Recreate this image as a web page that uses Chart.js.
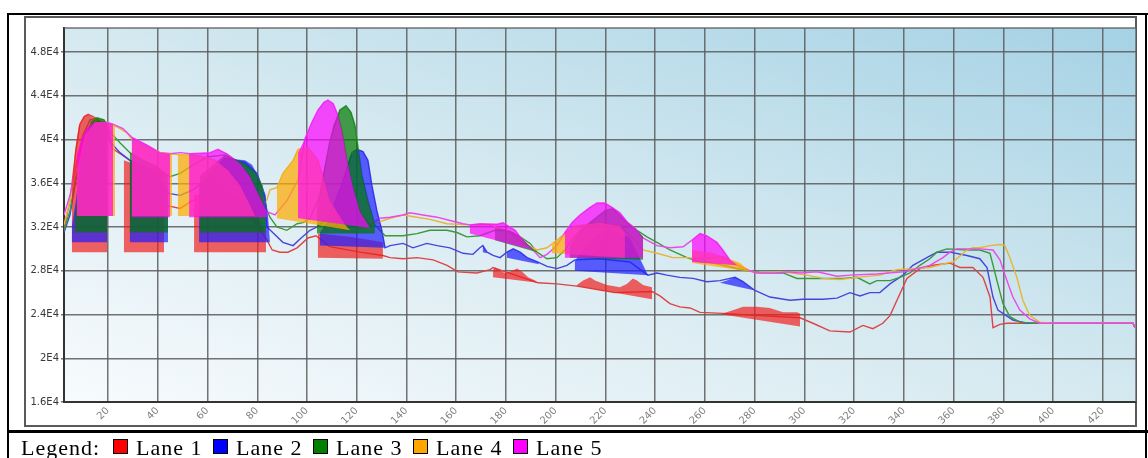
<!DOCTYPE html>
<html>
<head>
<meta charset="utf-8">
<script src="https://cdn.jsdelivr.net/npm/chart.js@4.4.1/dist/chart.umd.min.js"></script>
<style>
  body { margin: 0; background: #fff; }
  #page { position: relative; width: 1148px; height: 458px; overflow: hidden; background: #fff; }
  .rule { position: absolute; background: #000; }
  #frame { position: absolute; left: 24px; top: 16px; width: 1113px; height: 411px; box-sizing: border-box; border: 2px solid #5a5a5a; }
  #chart { position: absolute; left: 0; top: 0; }
  .lg { position: absolute; top: 436px; font-family: "Liberation Serif", serif; font-size: 22px; line-height: 24px; color: #000; letter-spacing: 1px; white-space: nowrap; }
  .sw { position: absolute; top: 439px; width: 13px; height: 13px; border: 1px solid #000; }
</style>
</head>
<body>
<div id="page">
  <div class="rule" style="left:7px;top:13px;width:1141px;height:2px"></div>
  <div class="rule" style="left:7px;top:13px;width:2px;height:445px"></div>
  <div class="rule" style="left:1145px;top:13px;width:2px;height:445px"></div>
  <div class="rule" style="left:7px;top:430px;width:1141px;height:3px"></div>
  <div id="frame"></div>
  <canvas id="chart" width="1148" height="458"></canvas>
  <div id="legend"></div>
</div>
<script>
// lane names and colours
const laneNames = ['Lane 1', 'Lane 2', 'Lane 3', 'Lane 4', 'Lane 5'];
const swatchColors = ['#ff0000', '#0000ff', '#008000', '#ffa500', '#ff00ff'];
const lineColors = ['#de4446', '#4545de', '#3a9a3a', '#e8b436', '#ec48ec'];
const fillColors = ['rgba(240,25,25,0.68)', 'rgba(30,30,255,0.7)', 'rgba(0,120,0,0.7)',
                    'rgba(255,170,0,0.72)', 'rgba(255,0,255,0.7)'];

// axis ticks
const xTicks = [20, 40, 60, 80, 100, 120, 140, 160, 180, 200, 220, 240, 260, 280, 300, 320, 340, 360, 380, 400, 420];
const yTicks = [16000, 20000, 24000, 28000, 32000, 36000, 40000, 44000, 48000];

// lane curves [x, value]
const lane1Line = [[2.3,31900],[4.7,34400],[7.1,39000],[8.7,41400],[10.4,42100],[12,42300],[14,42100],[16.8,41700],[19.6,41300],[20,40900],[21.6,39200],[25.6,38600],[28.8,38100],[34.9,37700],[36.9,35800],[42.9,34000],[49,33700],[53.8,34400],[61,34900],[69,34400],[77.1,33100],[81.9,31500],[83.9,30800],[86,29900],[89.1,29700],[92.3,29700],[96,30100],[100.4,31000],[103.6,31200],[109.2,30200],[121.3,29700],[130.5,29400],[133.4,29200],[138.6,29100],[144.2,29200],[150.7,29000],[156.3,28500],[160.7,27900],[168.3,27800],[173.6,28100],[174.8,28300],[192.9,26900],[200.5,26800],[208.5,26600],[223.8,26000],[238.7,26100],[241.9,25700],[245.9,25000],[249.9,24700],[254,24600],[258,24200],[267.2,24100],[282.1,23900],[298.2,23700],[303.4,23200],[310.2,22500],[318.3,22400],[323.5,23000],[327.5,22700],[331.5,23200],[334.4,23900],[337.2,25300],[341.2,27300],[346.4,28200],[351.7,28500],[358.5,28700],[362.5,28300],[367.7,28300],[371.8,27400],[374.6,25600],[375.8,22800],[378.6,23100],[381.4,23200],[386.6,23200],[432.1,23200],[432.9,22800]];
const lane2Line = [[2.3,31500],[4.7,33100],[7.1,36300],[9.5,39000],[11.6,40900],[14,41500],[16.8,41700],[19.6,41300],[20.8,39800],[24.8,38800],[28.8,38100],[38.1,36900],[43.7,35100],[49,34900],[54.2,35400],[59,36300],[67,38300],[75.1,37900],[79.9,36900],[83.1,34900],[83.9,32000],[90.3,30600],[94.4,30300],[97.2,30900],[101.2,31700],[104,32000],[109.2,33100],[115.3,36700],[118.1,38800],[120.1,39100],[122.5,38900],[124.5,38100],[126.1,35800],[128.1,33500],[130.1,31700],[131.4,30100],[133.4,30300],[138.6,30500],[142.6,30100],[148.2,30500],[152.3,30300],[157.5,30100],[162.7,29600],[166.7,29500],[169.5,30100],[170.7,30300],[172.4,29700],[174.8,29400],[177.6,29200],[180.4,29700],[182.9,30000],[185.7,29700],[188.5,29200],[192.9,28800],[196.5,28400],[200.5,28200],[204.5,28500],[207.7,29000],[217.8,29100],[229.8,28800],[237.1,27600],[240.7,27800],[244.7,27600],[249.9,27400],[255.2,27300],[260.8,27000],[266,27100],[272.1,27400],[275.3,27000],[280.1,26200],[286.1,25600],[294.2,25300],[299.4,25400],[307.4,25400],[313.1,25500],[318.3,26000],[322.3,25700],[326.3,26000],[330.3,26000],[334.4,26800],[339.6,27600],[343.6,28500],[349.2,29200],[353.3,29700],[358.5,29700],[365.3,29400],[370.5,29100],[373.4,28300],[375.8,25600],[377.8,24400],[383.8,23500],[389.4,23200],[432.1,23200],[432.9,22800]];
const lane3Line = [[2.3,31700],[4.7,33500],[7.1,36700],[9.9,40400],[12.8,41800],[15.6,42000],[18.4,41800],[20.8,40700],[24.8,39700],[28.8,38800],[34.1,38100],[39.7,37500],[44.9,36600],[49,36900],[53,37500],[59.8,38400],[67,38600],[75.1,37700],[79.1,37000],[81.9,35800],[83.9,33500],[85.1,32900],[87.9,32000],[91.9,31700],[96,32300],[98.4,32400],[101.2,32800],[105.2,34900],[109.2,39900],[113.2,42700],[115.7,43100],[117.7,42500],[119.3,41300],[120.5,39300],[122.1,36700],[124.5,34400],[127.3,32200],[131.4,31200],[138.6,31200],[144.2,31400],[149.4,31700],[156.3,31700],[160.3,31500],[164.3,31100],[169.5,31200],[175.6,31700],[181.6,31600],[185.7,31100],[189.7,30500],[192.5,29700],[196.5,29100],[200.5,29200],[203.7,29900],[207.7,31200],[213.8,32400],[219.8,33500],[223,33700],[227.8,32600],[232.7,31700],[236.7,31100],[240.7,30600],[245.9,29900],[252.8,29200],[258,28800],[263.2,28700],[271.2,28300],[276.9,28000],[283.3,27800],[291.4,27800],[297,27300],[307.4,27300],[315.5,27300],[321.1,27400],[326.3,26800],[329.1,27100],[334.4,27100],[338.4,27400],[342.4,27800],[346.4,28500],[350.4,29100],[353.3,29700],[357.3,30000],[365.3,29900],[370.5,29900],[374.6,29600],[377.4,27100],[379.8,25000],[382.6,23800],[386.6,23300],[391.8,23200],[432.1,23200],[432.9,22800]];
const lane4Line = [[2.3,32200],[4.7,34400],[7.9,38100],[12,40900],[16,41700],[18.8,41600],[20.8,41500],[24.8,41000],[27.6,40600],[30.1,39900],[35.7,39400],[40.9,38800],[45.7,38700],[49,38600],[52.6,38600],[57,38500],[63.1,38100],[68.2,37200],[73.1,35800],[77.1,34000],[80.3,33300],[83.9,34500],[85.1,35400],[87.9,35600],[90.3,36900],[94.4,38100],[96.4,39100],[100.4,39300],[104.4,38100],[109.2,34400],[112.1,32000],[117.3,31500],[122.5,31900],[128.1,32400],[133.4,32800],[138.6,33100],[144.2,32900],[149.4,32700],[156.3,32300],[165.5,32200],[173.6,32200],[181.6,31500],[186.9,30500],[192.5,29900],[196.5,30100],[200.5,30800],[207.7,32100],[217.8,32400],[225.8,32100],[231.8,30800],[235.1,29900],[240.7,29600],[247.1,29200],[252.8,29200],[259.2,29100],[267.2,29300],[274.1,28500],[278.1,28000],[280.9,27800],[291.4,27900],[301,27600],[307.4,27300],[314.3,27200],[321.1,27400],[330.3,27600],[337.2,28100],[343.6,28200],[350.4,28300],[357.3,28700],[359.7,28800],[365.3,29900],[367.7,30100],[370.5,30100],[374.6,30300],[378.6,30400],[380.6,30300],[382.6,29200],[385.4,27400],[387.8,25300],[390.6,23900],[394.6,23300],[399.9,23200],[432.1,23200],[432.9,22800]];
const lane5Line = [[2.3,33100],[4.7,34900],[7.5,38100],[9.9,40100],[12.8,41300],[15.6,41600],[18.8,41600],[22,41400],[26,41000],[29.6,40200],[35.7,39500],[40.9,38800],[44.9,38700],[49,38800],[53,38700],[61,38800],[64.2,39100],[67.8,38700],[73.1,37800],[77.1,36600],[81.1,34700],[83.9,33400],[87.1,33100],[91.9,34400],[96.4,36300],[99.2,40100],[102,41600],[104.4,42700],[106.8,43400],[108.4,43600],[110.5,43300],[112.5,42200],[114.1,40700],[116.1,38100],[118.5,35600],[121.3,33400],[125.3,32200],[129.3,32800],[133.4,32900],[138.6,33100],[141.4,33300],[146.6,33100],[152.3,32900],[157.5,32600],[162.7,32300],[165.5,32200],[169.5,32300],[176.4,32250],[178.8,32400],[181.6,32000],[183.7,31700],[185.7,31100],[188.5,30400],[190.9,29900],[193.7,29200],[196.5,29500],[200.5,30300],[203.7,31500],[206.5,32400],[209.7,33100],[213.8,33800],[216.6,34200],[219.8,34200],[222.6,33800],[225.8,33300],[229,32400],[231.8,31900],[235.1,31000],[240.7,30300],[245.9,30100],[251.2,30200],[254.8,30800],[258,31400],[260.8,31200],[264.8,30600],[267.2,29900],[270,29000],[272.9,28500],[278.1,28000],[280.9,27800],[288.9,27800],[293,27900],[298.2,27800],[305,27900],[307.4,27800],[313.1,27500],[318.3,27600],[329.1,27700],[339.6,27900],[345.2,28200],[350.4,28500],[355.7,29200],[358.5,29700],[361.3,30000],[370.5,30000],[375.8,29900],[378.6,29000],[381.4,27100],[383.8,25600],[386.6,24400],[390.6,23600],[394.6,23200],[432.1,23200],[432.9,22800]];

// shaded event areas per lane, each an outline of [x, value]
const lane1Fills = [
  [[5.5,29700],[5.5,35400],[6.7,39000],[8.3,41300],[10.4,42100],[12,42300],[14,42000],[16.8,41700],[19.6,41400],[19.6,29700]],
  [[26.4,29700],[26.4,38100],[28.8,37900],[34.9,37600],[42.5,37000],[42.5,29700]],
  [[54.6,29700],[54.6,34900],[63.1,35400],[73.1,34900],[79.1,33500],[83.5,31500],[83.5,29700]],
  [[104.4,29200],[104.4,31400],[117.3,31100],[130.5,30600],[130.5,29100]],
  [[174.8,27400],[174.8,28100],[175.6,28300],[177.6,28000],[179.6,27800],[181.6,27900],[184.5,28200],[186.5,27900],[188.9,27400],[191.7,27100],[192.9,26900]],
  [[208.5,26600],[208.5,26700],[211,27100],[213.8,27400],[215.8,27100],[220.6,26700],[225.8,26500],[228.6,26800],[231,27300],[232.7,27100],[235.1,26700],[238.7,26500],[238.7,25400]],
  [[267.2,24000],[267.2,24100],[271.2,24400],[275.3,24700],[280.9,24700],[286.1,24600],[291.4,24200],[297,24200],[298.2,24100],[298.2,22900]]
];
const lane2Fills = [
  [[5.5,30600],[5.5,32200],[7.1,34400],[8.7,37700],[10.8,40000],[12.8,41200],[16,41700],[19.6,41400],[19.6,30600]],
  [[28.8,30600],[28.8,38100],[36.9,37400],[44.1,35400],[44.1,30600]],
  [[56.6,30600],[56.6,35800],[67,38300],[75.1,38100],[77.9,37700],[80.3,36700],[83.1,34900],[84.3,33100],[85.1,30600]],
  [[105.2,30300],[105.2,31500],[109.2,32800],[113.2,35400],[115.3,37000],[117.3,38500],[120.1,39100],[122.5,38900],[124.5,38100],[126.1,35800],[128.1,33500],[130.1,31700],[131.4,30100]],
  [[170.7,29700],[170.7,30300],[172.4,29600]],
  [[180.4,29200],[180.4,29700],[182.9,30000],[185.7,29700],[188.5,29200],[192.9,28800],[193.3,28600]],
  [[207.7,28000],[207.7,28900],[213.8,30800],[221.8,31900],[229.8,31000],[233.9,29100],[237.1,27600]],
  [[266,26900],[268.8,27100],[272.1,27400],[275.3,27000],[280.1,26200]]
];
const lane3Fills = [
  [[6.7,31500],[6.7,33100],[8.7,36700],[10.8,39900],[13.2,41700],[15.6,42000],[18.4,41800],[19.6,41500],[19.6,31500]],
  [[28.8,31500],[28.8,38800],[39.7,37500],[44.1,36700],[44.1,31500]],
  [[57,31500],[57,36700],[67,38600],[75.1,37800],[79.1,37000],[81.9,35800],[83.5,33100],[83.5,31500]],
  [[104,31400],[104,34000],[107.2,37700],[110.5,41300],[113.2,42700],[115.7,43100],[117.7,42500],[119.3,41300],[120.5,39300],[122.1,36700],[124.5,34400],[127.3,32200],[127.3,31400]],
  [[175.6,30800],[175.6,31900],[179.6,31800],[182.9,31500],[185.7,31100],[188.5,30500],[190.9,30000],[192.5,29700]],
  [[205.7,29200],[205.7,30300],[209.7,31700],[213.8,32400],[219.8,33500],[223,33700],[227.8,32600],[232.7,31700],[235.1,31100],[235.1,29000]]
];
const lane4Fills = [
  [[7.5,33000],[7.5,37200],[10.8,40400],[14.8,41600],[18.8,41600],[22.8,41300],[22.8,33000]],
  [[29.6,33000],[29.6,39900],[35.7,39400],[40.9,38800],[45.7,38700],[45.7,33000]],
  [[48.1,33000],[48.1,38600],[52.6,38600],[57,38500],[63.1,38100],[68.2,37200],[73.1,35800],[77.1,34000],[79.1,33000]],
  [[87.9,32800],[87.9,35600],[90.3,36900],[94.4,38100],[96.4,39100],[100.4,39300],[104.4,38100],[109.2,34400],[115.3,32200],[117.3,31700]],
  [[198.5,29600],[198.5,30300],[201.7,31000],[207.7,32100],[217.8,32400],[225.8,32100],[227.8,31400],[227.8,29200]],
  [[254.8,28700],[254.8,29900],[262,29700],[267.2,29300],[274.1,28700],[278.1,27900]]
];
const lane5Fills = [
  [[7.5,33000],[7.5,38600],[9.5,40200],[12,41200],[14.8,41600],[18.8,41600],[22,41400],[22,33000]],
  [[29.6,32900],[29.6,40200],[35.7,39500],[40.9,38800],[44.9,38700],[44.9,32900]],
  [[52.6,32900],[52.6,38700],[61,38800],[64.2,39100],[67.8,38700],[73.1,37800],[77.1,36600],[81.1,34700],[83.9,33400],[83.9,32900]],
  [[96.4,32800],[96.4,38800],[99.2,40100],[102,41600],[104.4,42700],[106.8,43400],[108.4,43600],[110.5,43300],[112.5,42200],[114.1,40700],[116.1,38100],[118.5,35600],[121.3,33400],[125.3,31900]],
  [[165.5,31400],[165.5,32200],[169.5,32300],[176.4,32250],[178.8,32400],[181.6,32000],[183.7,31700],[185.7,31100],[188.5,30400],[190.9,29900]],
  [[203.7,29200],[203.7,31500],[206.5,32400],[209.7,33100],[213.8,33800],[216.6,34200],[219.8,34200],[222.6,33800],[225.8,33300],[229,32400],[231.8,31900],[233.9,31400],[235.1,30800],[235.1,29200]],
  [[254.8,28800],[254.8,30800],[258,31400],[260.8,31200],[264.8,30600],[267.2,29900],[270,29000],[272.9,28500]]
];

const laneLines = [lane1Line, lane2Line, lane3Line, lane4Line, lane5Line];
const laneFills = [lane1Fills, lane2Fills, lane3Fills, lane4Fills, lane5Fills];
const toXY = pts => pts.map(p => ({x: p[0], y: p[1]}));

const datasets = [];
laneFills.forEach((shapes, i) => {
  shapes.forEach(shape => {
    datasets.push({
      label: laneNames[i] + ' area',
      data: toXY(shape),
      fill: 'shape',
      backgroundColor: fillColors[i],
      borderColor: 'transparent',
      borderWidth: 0,
      pointRadius: 0,
      tension: 0,
      order: 5 - i
    });
  });
});
laneLines.forEach((pts, i) => {
  datasets.push({
    label: laneNames[i],
    data: toXY(pts),
    fill: false,
    borderColor: lineColors[i],
    borderWidth: 1.4,
    pointRadius: 0,
    tension: 0,
    order: 20 - i
  });
});

// plot background: white bottom-left to light blue top-right
const bgPlugin = {
  id: 'plotBg',
  beforeDraw(chart) {
    const {ctx, chartArea: a} = chart;
    const w = a.right - a.left, h = a.bottom - a.top;
    const cx = a.left + w / 2, cy = a.top + h / 2;
    const t = (w * h) / (w * w + h * h);
    const g = ctx.createLinearGradient(cx - t * h, cy + t * w, cx + t * h, cy - t * w);
    g.addColorStop(0, '#f7fbfd');
    g.addColorStop(0.5, '#d5e9f0');
    g.addColorStop(1, '#a5d2e5');
    ctx.save();
    ctx.fillStyle = g;
    ctx.fillRect(a.left, a.top, w, h);
    ctx.restore();
  },
  beforeDatasetsDraw(chart) {
    const {ctx, chartArea: a} = chart;
    ctx.save();
    ctx.strokeStyle = 'rgba(90,90,90,0.85)';
    ctx.lineWidth = 1.5;
    ctx.beginPath();
    ctx.moveTo(a.left, a.top);
    ctx.lineTo(a.right, a.top);
    ctx.lineTo(a.right, a.bottom);
    ctx.stroke();
    ctx.restore();
  }
};

const chartCanvas = document.getElementById('chart');
const chart = new Chart(chartCanvas.getContext('2d'), {
  type: 'line',
  data: { datasets: datasets },
  options: {
    responsive: false,
    animation: false,
    devicePixelRatio: 1,
    layout: { padding: { left: 24, top: 28, right: 12, bottom: 0 } },
    plugins: {
      legend: { display: false },
      tooltip: { enabled: false }
    },
    scales: {
      x: {
        type: 'linear',
        min: 2.3,
        max: 433.3,
        afterBuildTicks: s => { s.ticks = xTicks.map(v => ({value: v})); },
        afterFit: s => { s.height = 56; },
        grid: { color: 'rgba(90,90,90,0.85)', lineWidth: 1.5, drawTicks: false },
        border: { display: true, color: '#333', width: 2 },
        ticks: {
          autoSkip: false,
          minRotation: 45,
          maxRotation: 45,
          padding: 3,
          color: '#7f7f7f',
          font: { family: 'DejaVu Sans', size: 10 }
        }
      },
      y: {
        min: 16000,
        max: 50200,
        afterBuildTicks: s => { s.ticks = yTicks.map(v => ({value: v})); },
        afterFit: s => { s.width = 40; },
        grid: { color: 'rgba(90,90,90,0.85)', lineWidth: 1.5, tickLength: 3 },
        border: { display: true, color: '#333', width: 2 },
        ticks: {
          padding: 2,
          color: '#383838',
          font: { family: 'DejaVu Sans', size: 10 },
          callback: v => (v / 10000) + 'E4'
        }
      }
    }
  },
  plugins: [bgPlugin]
});

// legend row under the chart
const legend = document.getElementById('legend');
const head = document.createElement('div');
head.className = 'lg';
head.style.left = '21px';
head.textContent = 'Legend:';
legend.appendChild(head);
laneNames.forEach((name, i) => {
  const sw = document.createElement('div');
  sw.className = 'sw';
  sw.style.left = (113 + i * 100) + 'px';
  sw.style.background = swatchColors[i];
  legend.appendChild(sw);
  const lb = document.createElement('div');
  lb.className = 'lg';
  lb.style.left = (136 + i * 100) + 'px';
  lb.textContent = name;
  legend.appendChild(lb);
});
</script>
</body>
</html>
